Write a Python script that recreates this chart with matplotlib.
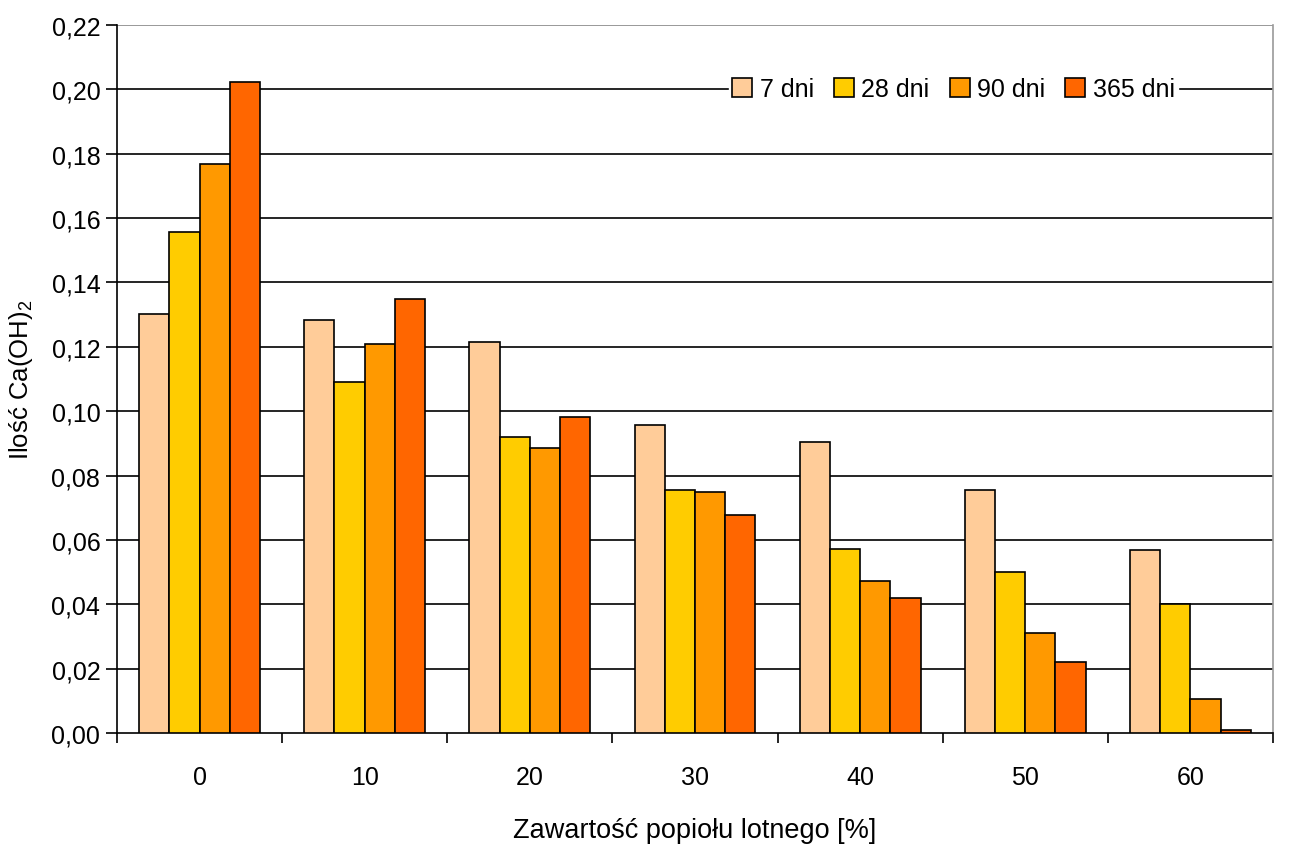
import numpy as np
import matplotlib.pyplot as plt

plt.rcParams['font.family'] = ['Liberation Sans', 'DejaVu Sans']
plt.rcParams['mathtext.fontset'] = 'custom'
plt.rcParams['mathtext.rm'] = 'Liberation Sans'
plt.rcParams['mathtext.it'] = 'Liberation Sans'

# Data
categories = ['0', '10', '20', '30', '40', '50', '60']
series_names = ['7 dni', '28 dni', '90 dni', '365 dni']
dni_7 = [0.1302, 0.1283, 0.1215, 0.0957, 0.0904, 0.0755, 0.0569]
dni_28 = [0.1557, 0.1091, 0.0920, 0.0755, 0.0572, 0.0500, 0.0401]
dni_90 = [0.1768, 0.1209, 0.0886, 0.0749, 0.0472, 0.0311, 0.0106]
dni_365 = [0.2023, 0.1349, 0.0982, 0.0677, 0.0420, 0.0221, 0.0009]
yticks = [0.00, 0.02, 0.04, 0.06, 0.08, 0.10, 0.12, 0.14, 0.16, 0.18, 0.20, 0.22]

colors = ['#FFCC99', '#FFCC00', '#FF9900', '#FF6600']

fig = plt.figure(figsize=(13.04, 8.53), dpi=100)
ax = fig.add_axes([0.0897, 0.1395, 0.8865, 0.830])

x = np.arange(len(categories))
w = 0.183
for i, (vals, name) in enumerate(zip([dni_7, dni_28, dni_90, dni_365], series_names)):
    ax.bar(x + (i - 1.5) * w, vals, width=w, color=colors[i], edgecolor='black',
           linewidth=1.2, label=name, zorder=3)

ax.set_xlim(-0.5, len(categories) - 0.5)
ax.set_ylim(0, 0.22)
ax.set_yticks(yticks)
ax.set_yticklabels([('%.2f' % t).replace('.', ',') for t in yticks])
ax.set_xticks(x)
ax.set_xticklabels(categories)
ax.set_xticks(np.arange(-0.5, len(categories)), minor=True)
ax.tick_params(axis='x', which='major', length=0, pad=23, labelsize=18)
ax.tick_params(axis='x', which='minor', length=7, width=1.2, direction='out')
ax.tick_params(axis='y', length=8, width=1.2, direction='out', labelsize=18, pad=4)

for t in yticks[1:-1]:
    ax.axhline(t, color='black', linewidth=1.2, zorder=1)
ax.axhline(0.22, color='#888888', linewidth=1.2, zorder=1)

ax.spines['left'].set_linewidth(1.2)
ax.spines['bottom'].set_linewidth(1.2)
ax.spines['top'].set_visible(False)
ax.spines['right'].set_color('#999999')
ax.spines['right'].set_linewidth(1.2)

ax.set_xlabel('Zawartość popiołu lotnego [%]', fontsize=19.5, labelpad=20)
ax.set_ylabel('Ilość Ca(OH)$_2$', fontsize=18.5, labelpad=12)

leg = ax.legend(ncol=4, loc='upper right', bbox_to_anchor=(0.929, 0.949), frameon=True,
                fontsize=18, handlelength=0.8, handleheight=0.8, handletextpad=0.3,
                columnspacing=0.8, borderpad=0.15, fancybox=False)
leg.get_frame().set_edgecolor('white')
leg.get_frame().set_facecolor('white')
leg.get_frame().set_alpha(1)
leg.set_zorder(5)

fig.savefig('out.png', dpi=100)
